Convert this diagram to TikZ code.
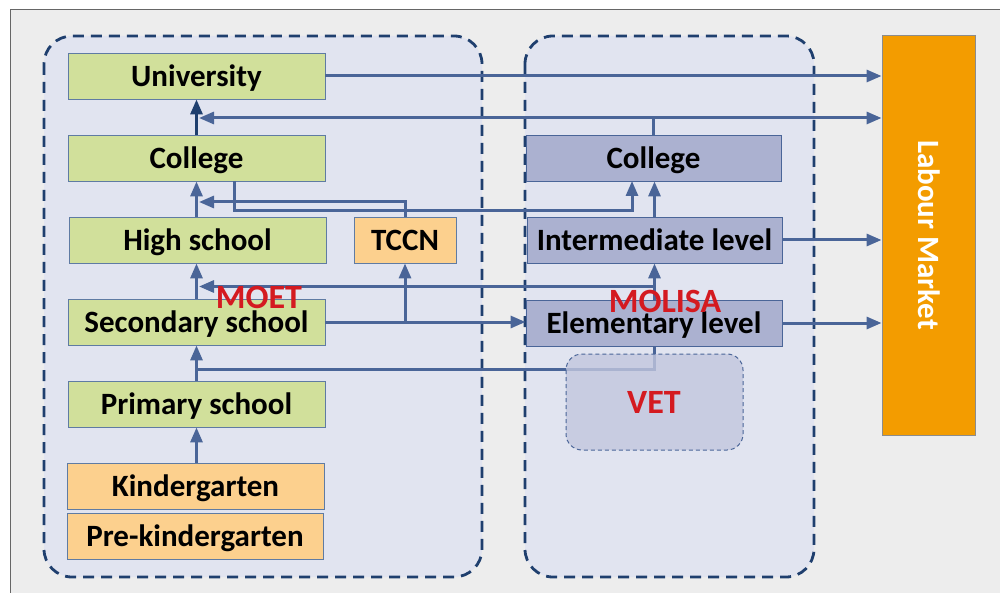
\documentclass[tikz,border=0pt]{standalone}
\usepackage{fontspec}
\setmainfont{Carlito}
\usetikzlibrary{arrows.meta}
\definecolor{bgc}{HTML}{EDEDED}
\definecolor{contfill}{HTML}{E1E4F0}
\definecolor{contline}{HTML}{1F3F6E}
\definecolor{greenf}{HTML}{D1E09B}
\definecolor{orangef}{HTML}{FCD08E}
\definecolor{molf}{HTML}{ABB1D0}
\definecolor{boxline}{HTML}{5F7BA3}
\definecolor{connc}{HTML}{4A6598}
\definecolor{darkc}{HTML}{1F3F6E}
\definecolor{labf}{HTML}{F39C00}
\definecolor{redc}{HTML}{D41A20}
\definecolor{vetf}{HTML}{C2C7DE}
\begin{document}
\begin{tikzpicture}[x=1pt,y=-1pt,
  container/.style={draw=contline, fill=contfill, line width=2.8pt, dash pattern=on 11pt off 7pt, rounded corners=28pt},
  edbox/.style={draw=boxline, line width=0.9pt, minimum height=46pt, inner sep=0pt,
    text height=20.5pt, text depth=0pt, font=\fontsize{31}{36}\selectfont\bfseries},
  gbox/.style={edbox, fill=greenf, minimum width=257pt},
  obox/.style={edbox, fill=orangef},
  mbox/.style={edbox, fill=molf, draw=connc, minimum width=255pt},
  conn/.style={draw=connc, line width=3pt},
  arr/.style={conn, -{Triangle[length=15pt,width=12pt]}},
  darr/.style={arr, draw=darkc, -{Triangle[length=15pt,width=12pt]}},
  redlab/.style={text=redc, font=\fontsize{34}{38}\selectfont\bfseries, inner sep=0pt, text height=21.5pt, text depth=0pt}
]
\useasboundingbox (0,0) rectangle (1000,593);
\fill[white] (0,0) rectangle (1000,593);
\fill[bgc] (10,10) rectangle (1000,593);
\draw[black!60, line width=1pt] (10,593) -- (10,10) -- (1000,10);

% containers
\path[container] (44,36) rectangle (482,577);
\path[container] (525,36) rectangle (814,577);

% MOET boxes
\node[gbox] (uni) at (196.5,76) {University};
\node[gbox] (col1) at (196.5,158) {College};
\node[gbox] (hs) at (197.5,240) {High school};
\node[gbox] (sec) at (196.5,322) {Secondary school};
\node[gbox] (pri) at (196.5,404) {Primary school};
\node[obox, minimum width=257pt] (kin) at (195.5,486) {Kindergarten};
\node[obox, minimum width=256pt] (pre) at (195,536) {Pre-kindergarten};
\node[obox, minimum width=102pt] (tccn) at (405,240) {TCCN};

% MOLISA boxes
\node[mbox] (col2) at (653.5,158) {College};
\node[mbox] (inter) at (654.5,240) {Intermediate level};
\node[mbox, minimum width=256pt] (elem) at (654,323) {Elementary level};

% Labour market
\node[draw=black!45, line width=0.9pt, fill=labf, minimum width=93pt, minimum height=400pt, inner sep=0pt] (lab) at (928.5,235) {};
\node[rotate=-90, text=white, font=\fontsize{31}{36}\selectfont\bfseries, inner sep=0pt, text height=20.5pt, text depth=0pt] (labtxt) at (lab.center) {Labour Market};

% named junction coordinates
\coordinate (j1) at (653.5,118);
\coordinate (a1) at (199,118);
\coordinate (a2) at (199,202);
\coordinate (c1s) at (234,181);
\coordinate (c1d) at (234,211);
\coordinate (c2t) at (632,181);
\coordinate (j2) at (654.5,286.5);
\coordinate (a3) at (199,286.5);
\coordinate (j3) at (196.5,369.5);
\coordinate (j4) at (405,322);

% connectors
\draw[arr] (uni.east) -- (uni.east -| lab.west);
\draw[darr] (col1.north) -- (uni.south);
\draw[conn] (col2.north) -- (j1);
\draw[arr] (j1) -- (j1 -| lab.west);
\draw[arr] (j1) -- (a1);
\draw[arr] (hs.north -| col1.south) -- (col1.south);
\draw[arr] (tccn.north) |- (a2);
\draw[arr] (c1s) -- (c1d) -| (c2t);
\draw[arr] (inter.north) -- (inter.north |- col2.south);
\draw[arr] (inter.east) -- (inter.east -| lab.west);
\draw[arr] (sec.north) -- (sec.north |- hs.south);
\draw[conn] (elem.north -| j2) -- (j2);
\draw[arr] (j2) -- (j2 |- inter.south);
\draw[arr] (j2) -- (a3);
\draw[arr] (sec.east) -- (sec.east -| elem.west);
\draw[arr] (j4) -- (tccn.south);
\draw[conn] (elem.south) |- (j3);
\draw[arr] (pri.north) -- (sec.south);
\draw[arr] (kin.north -| pri.south) -- (pri.south);
\draw[arr] (elem.east) -- (elem.east -| lab.west);

% VET box
\path[draw=connc, line width=1pt, dash pattern=on 4pt off 3pt, fill=vetf, fill opacity=0.8, rounded corners=16pt] (566,354) rectangle (743,450);

% labels
\node[redlab] (moet) at (259,297.5) {MOET};
\node[redlab] (molisa) at (665,301.5) {MOLISA};
\node[redlab] (vet) at (654,403) {VET};
\end{tikzpicture}
\end{document}
